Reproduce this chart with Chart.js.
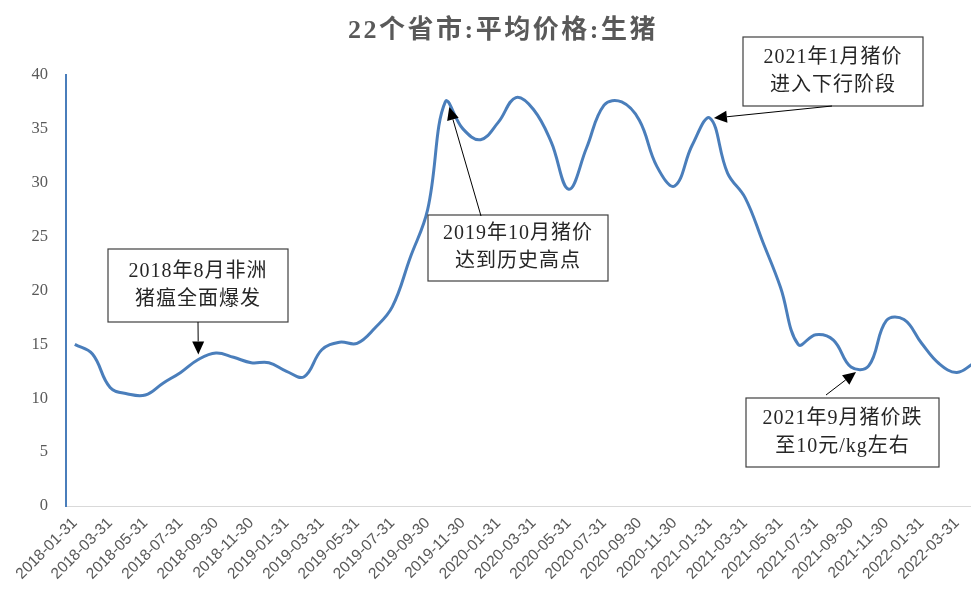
<!DOCTYPE html>
<html>
<head>
<meta charset="utf-8">
<script src="https://cdn.jsdelivr.net/npm/chart.js@4"></script>
<style>
  html, body { margin: 0; padding: 0; background: #fff; overflow: hidden; }
  #wrap { width: 971px; height: 592px; }
</style>
</head>
<body>
<div id="wrap"><canvas id="c" width="971" height="592"></canvas></div>
<script>
// Chart title
const chartTitle = '22个省市:平均价格:生猪';

// Month-end dates (the last one is cut off by the right edge of the picture)
const dates = [
  '2018-01-31', '2018-02-28', '2018-03-31', '2018-04-30', '2018-05-31', '2018-06-30',
  '2018-07-31', '2018-08-31', '2018-09-30', '2018-10-31', '2018-11-30', '2018-12-31',
  '2019-01-31', '2019-02-28', '2019-03-31', '2019-04-30', '2019-05-31', '2019-06-30',
  '2019-07-31', '2019-08-31', '2019-09-30', '2019-10-31', '2019-11-30', '2019-12-31',
  '2020-01-31', '2020-02-29', '2020-03-31', '2020-04-30', '2020-05-31', '2020-06-30',
  '2020-07-31', '2020-08-31', '2020-09-30', '2020-10-31', '2020-11-30', '2020-12-31',
  '2021-01-31', '2021-02-28', '2021-03-31', '2021-04-30', '2021-05-31', '2021-06-30',
  '2021-07-31', '2021-08-31', '2021-09-30', '2021-10-31', '2021-11-30', '2021-12-31',
  '2022-01-31', '2022-02-28', '2022-03-31', '2022-04-30'
];

// Average hog price (元/kg)
const prices = [
  15.0, 14.1, 11.0, 10.4, 10.3, 11.4, 12.4, 13.6, 14.2, 13.8, 13.3, 13.3,
  12.5, 12.0, 14.5, 15.2, 15.1, 16.5, 18.5, 23.0, 27.5, 37.5, 35.0, 34.0,
  35.6, 37.9, 36.8, 33.8, 29.4, 33.2, 37.2, 37.5, 35.8, 31.5, 29.7, 33.5,
  36.0, 30.9, 28.6, 24.5, 20.3, 15.0, 15.9, 15.4, 12.9, 13.0, 17.2, 17.3,
  15.1, 13.2, 12.4, 13.3
];

// Y axis ticks
const yTicks = [0, 5, 10, 15, 20, 25, 30, 35, 40];

// Call-out boxes: text, box [x, y, w, h], arrow tail, data index the arrow points at
const notes = [
  { text: ['2018年8月非洲', '猪瘟全面爆发'], box: [108, 249, 180, 73], from: [198, 322], at: 7, nudge: [0, -5] },
  { text: ['2019年10月猪价', '达到历史高点'], box: [428, 215, 180, 66], from: [481, 216], at: 21, nudge: [4, 5] },
  { text: ['2021年1月猪价', '进入下行阶段'], box: [743, 37, 180, 69], from: [832, 106], at: 36, nudge: [4, 0] },
  { text: ['2021年9月猪价跌', '至10元/kg左右'], box: [746, 398, 193, 69], from: [826, 395], at: 44, nudge: [5, 5] }
];

const lineBlue = '#4a7ebb';
const serif = '"Liberation Serif", "Times New Roman", "Noto Sans CJK SC", serif';

// title drawn by hand so it can sit where the original puts it
const titlePlugin = {
  id: 'pigTitle',
  afterDraw(chart) {
    const ctx = chart.ctx;
    ctx.save();
    ctx.font = 'bold 26px ' + serif;
    ctx.fillStyle = '#595959';
    ctx.textAlign = 'center';
    ctx.textBaseline = 'middle';
    if ('letterSpacing' in ctx) ctx.letterSpacing = '2.5px';
    ctx.fillText(chartTitle, 503, 31);
    ctx.restore();
  }
};

function drawArrow(ctx, x1, y1, x2, y2) {
  const ang = Math.atan2(y2 - y1, x2 - x1);
  const len = 13, half = 6;
  const bx = x2 - len * Math.cos(ang), by = y2 - len * Math.sin(ang);
  ctx.beginPath();
  ctx.moveTo(x1, y1);
  ctx.lineTo(bx, by);
  ctx.stroke();
  ctx.beginPath();
  ctx.moveTo(x2, y2);
  ctx.lineTo(bx + half * Math.sin(ang), by - half * Math.cos(ang));
  ctx.lineTo(bx - half * Math.sin(ang), by + half * Math.cos(ang));
  ctx.closePath();
  ctx.fill();
}

const notesPlugin = {
  id: 'pigNotes',
  afterDatasetsDraw(chart) {
    const ctx = chart.ctx;
    const xs = chart.scales.x, ys = chart.scales.y;
    ctx.save();
    notes.forEach(n => {
      const [bx, by, bw, bh] = n.box;
      ctx.fillStyle = '#fff';
      ctx.fillRect(bx, by, bw, bh);
      ctx.strokeStyle = '#404040';
      ctx.lineWidth = 1.2;
      ctx.strokeRect(bx, by, bw, bh);

      ctx.fillStyle = '#262626';
      ctx.font = '20px ' + serif;
      ctx.textAlign = 'center';
      ctx.textBaseline = 'middle';
      if ('letterSpacing' in ctx) ctx.letterSpacing = '1px';
      const cy = by + bh / 2;
      ctx.fillText(n.text[0], bx + bw / 2, cy - 14);
      ctx.fillText(n.text[1], bx + bw / 2, cy + 14);
      if ('letterSpacing' in ctx) ctx.letterSpacing = '0px';

      const tx = xs.getPixelForValue(n.at) + n.nudge[0];
      const ty = ys.getPixelForValue(prices[n.at]) + n.nudge[1];
      ctx.strokeStyle = '#000';
      ctx.fillStyle = '#000';
      ctx.lineWidth = 1;
      drawArrow(ctx, n.from[0], n.from[1], tx, ty);
    });
    ctx.restore();
  }
};

const ctx = document.getElementById('c').getContext('2d');
const chart = new Chart(ctx, {
  type: 'line',
  data: {
    datasets: [{
      label: chartTitle,
      data: prices.map((v, i) => ({ x: i, y: v })),
      borderColor: lineBlue,
      borderWidth: 3,
      pointRadius: 0,
      tension: 0.4,
      fill: false
    }]
  },
  options: {
    responsive: false,
    animation: false,
    devicePixelRatio: 1,
    layout: { padding: { top: 75, left: 0, right: 0, bottom: 0 } },
    plugins: {
      legend: { display: false },
      title: { display: false },
      tooltip: { enabled: false }
    },
    scales: {
      x: {
        type: 'linear',
        min: -0.5,
        max: 50.8,
        afterFit: s => { s.height = 86; s.paddingRight = 0; },
        afterBuildTicks: s => {
          s.ticks = dates.map((d, i) => ({ value: i })).filter(t => t.value % 2 === 0 && t.value <= 50);
        },
        grid: { display: false, drawTicks: false },
        border: { display: true, color: '#d9d9d9', width: 1 },
        ticks: {
          autoSkip: false,
          minRotation: 45,
          maxRotation: 45,
          padding: 8,
          color: '#595959',
          font: { family: '"Liberation Sans", Arial, sans-serif', size: 15.5 },
          callback: v => dates[v]
        }
      },
      y: {
        min: 0,
        max: 40,
        afterFit: s => { s.width = 66; },
        afterBuildTicks: s => { s.ticks = yTicks.map(v => ({ value: v })); },
        grid: { display: false, drawTicks: false },
        border: { display: true, color: lineBlue, width: 2 },
        ticks: {
          padding: 18,
          color: '#595959',
          font: { family: serif, size: 16.5 }
        }
      }
    }
  },
  plugins: [titlePlugin, notesPlugin]
});
</script>
</body>
</html>
